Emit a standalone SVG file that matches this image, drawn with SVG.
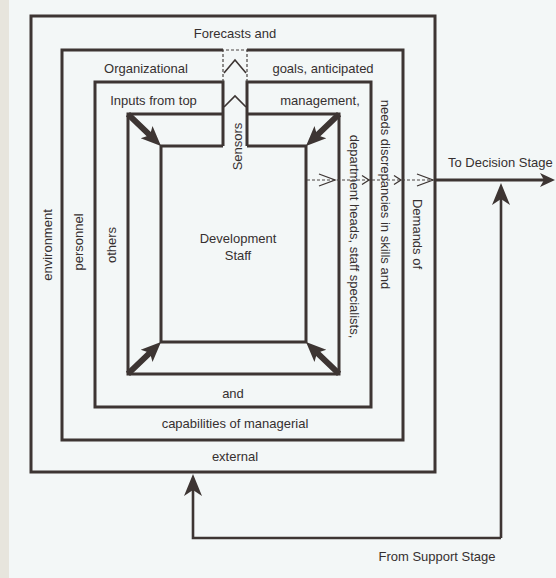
<svg xmlns="http://www.w3.org/2000/svg" xmlns:xlink="http://www.w3.org/1999/xlink" width="556" height="578" viewBox="0 0 556 578">
  <style>
    .frame { fill: none; stroke: #3d3533; stroke-width: 3; stroke-linejoin: miter; }
    .dash { fill: none; stroke: #4a4442; stroke-width: 1.2; stroke-dasharray: 3 2; }
    .thin { fill: none; stroke: #3d3533; stroke-width: 1.6; stroke-linejoin: miter; }
    .wire { fill: none; stroke: #3d3533; stroke-width: 2.6; }
    .fat { fill: #3d3533; }
    text { font-family: "Liberation Sans", Arial, Helvetica, sans-serif; font-size: 13px; fill: #363030; }
    .c { text-anchor: middle; }
  </style>
  <defs>
    <!-- thick arrow pointing along +x, tip at the origin -->
    <path id="corner-arrow" d="M-46,-3 L-17,-3 L-20,-8.5 L0,0 L-20,8.5 L-17,3 L-46,3 Z"/>
    <marker id="head-small" markerUnits="userSpaceOnUse" orient="auto" refX="0" refY="0" overflow="visible">
      <path d="M-5,-7 L10,0 L-5,7 L-1,0 Z" fill="#3d3533"/>
    </marker>
    <marker id="head-large" markerUnits="userSpaceOnUse" orient="auto" refX="0" refY="0" overflow="visible">
      <path d="M-8,-9 L14,0 L-8,9 L-2,0 Z" fill="#3d3533"/>
    </marker>
  </defs>

  <!-- paper -->
  <rect x="0" y="0" width="556" height="578" fill="#f3f7f7"/>
  <rect x="0" y="0" width="9" height="578" fill="#e7e5dd"/>

  <!-- external environment band -->
  <g id="external-environment">
    <rect class="frame" x="31" y="16" width="404" height="456"/>
    <text class="c" x="235" y="38">Forecasts and</text>
    <text class="c" x="418" y="234" dy="0.35em" transform="rotate(90 418 234)">Demands of</text>
    <text class="c" x="235" y="461">external</text>
    <text class="c" x="47" y="245" dy="0.35em" transform="rotate(-90 47 245)">environment</text>
  </g>

  <!-- organizational goals band -->
  <g id="organizational-goals">
    <path class="frame" d="M223,50 H62 V440 H403 V50 H247"/>
    <text class="c" x="146" y="72.5">Organizational</text>
    <text class="c" x="323" y="72.5">goals, anticipated</text>
    <text class="c" x="386" y="194.5" dy="0.35em" transform="rotate(90 386 194.5)">needs discrepancies in skills and</text>
    <text class="c" x="235" y="428">capabilities of managerial</text>
    <text class="c" x="78" y="242" dy="0.35em" transform="rotate(-90 78 242)">personnel</text>
  </g>

  <!-- inputs from top management band -->
  <g id="management-inputs">
    <path class="frame" d="M223,146 V82 H95 V407 H371 V82 H247 V146"/>
    <text class="c" x="153.5" y="104.5">Inputs from top</text>
    <text class="c" x="320" y="105">management,</text>
    <text class="c" x="355" y="236.5" dy="0.35em" transform="rotate(90 355 236.5)">department heads, staff specialists,</text>
    <text class="c" x="233" y="397.5">and</text>
    <text class="c" x="111" y="245" dy="0.35em" transform="rotate(-90 111 245)">others</text>
  </g>

  <!-- sensor channel -->
  <g id="sensors">
    <path class="dash" d="M223,82 V50 H247 V82"/>
    <path class="thin" d="M224,73 L235,60 L246,73"/>
    <path class="thin" d="M224,107 L235,96 L246,107"/>
    <text class="c" x="237" y="146.5" dy="0.35em" transform="rotate(-90 237 146.5)">Sensors</text>
  </g>

  <!-- fourth frame -->
  <g id="transfer-frame">
    <path class="frame" d="M223,114 H128 V374 H339 V114 H247"/>
  </g>

  <!-- development staff core -->
  <g id="development-staff">
    <path class="frame" d="M223,146 H161 V342 H306 V146 H247"/>
    <text class="c" x="238" y="243">Development</text>
    <text class="c" x="238" y="260">Staff</text>
  </g>

  <!-- connectors -->
  <g id="connectors">
    <use xlink:href="#corner-arrow" class="fat" transform="translate(161 146) rotate(44)"/>
    <use xlink:href="#corner-arrow" class="fat" transform="translate(306 146) rotate(136)"/>
    <use xlink:href="#corner-arrow" class="fat" transform="translate(161 342) rotate(-44)"/>
    <use xlink:href="#corner-arrow" class="fat" transform="translate(306 342) rotate(-136)"/>

    <path class="dash" d="M307,180 H433"/>
    <path class="thin" style="stroke-width:1.3" d="M319,174 L335,180 L319,186"/>
    <path class="thin" style="stroke-width:1.3" d="M362,175.5 L369,180 L362,184.5"/>
    <path class="thin" style="stroke-width:1.3" d="M394,175.5 L401,180 L394,184.5"/>
    <path class="thin" style="stroke-width:1.3" d="M417,174 L433,180 L417,186"/>

    <path class="frame" d="M435,180 H545" marker-end="url(#head-small)"/>
    <text x="448" y="167">To Decision Stage</text>

    <path class="wire" d="M501,538 V197" marker-end="url(#head-large)"/>
    <path class="wire" d="M501,538 H193 V488" marker-end="url(#head-large)"/>
    <text class="c" x="437" y="561">From Support Stage</text>
  </g>
</svg>
